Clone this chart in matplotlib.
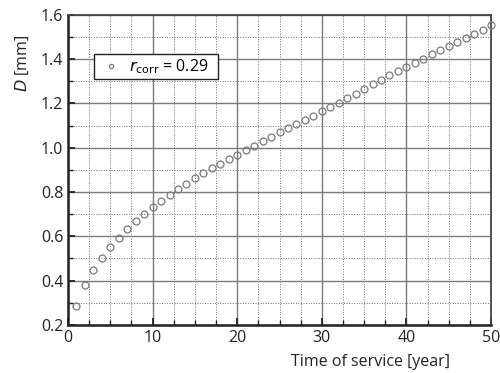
import matplotlib
matplotlib.use("Agg")
import matplotlib.pyplot as plt
from matplotlib.ticker import MultipleLocator

plt.rcParams['font.family'] = ['Open Sans', 'DejaVu Sans']

years = list(range(1, 51))
d_mm = [0.286, 0.379, 0.448, 0.504, 0.552, 0.594, 0.634, 0.670, 0.701, 0.731,
        0.760, 0.788, 0.813, 0.838, 0.862, 0.885, 0.908, 0.928, 0.948, 0.969,
        0.989, 1.010, 1.031, 1.050, 1.070, 1.087, 1.106, 1.126, 1.145, 1.165,
        1.185, 1.204, 1.225, 1.245, 1.266, 1.287, 1.308, 1.328, 1.346, 1.365,
        1.383, 1.403, 1.423, 1.441, 1.460, 1.479, 1.497, 1.515, 1.533, 1.556]
legend_label = r'$r_{\mathrm{corr}}$ = 0.29'

fig = plt.figure(figsize=(5, 3.73), dpi=100)
ax = fig.add_axes([0.136, 0.129, 0.846, 0.831])

ax.plot(years, d_mm, linestyle='none', marker='o', markersize=5.0,
        markerfacecolor='none', markeredgecolor='#7a7a7a', markeredgewidth=0.9,
        label=legend_label, clip_on=False, zorder=3)

ax.set_xlim(0, 50)
ax.set_ylim(0.2, 1.6)
ax.xaxis.set_major_locator(MultipleLocator(10))
ax.xaxis.set_minor_locator(MultipleLocator(2.5))
ax.yaxis.set_major_locator(MultipleLocator(0.2))
ax.yaxis.set_minor_locator(MultipleLocator(0.1))
ax.yaxis.set_major_formatter(plt.FormatStrFormatter('%.1f'))

ax.grid(which='major', color='#7a7a7a', linestyle='-', linewidth=1.0)
ax.grid(which='minor', color='#707070', linestyle=(0, (1.0, 1.6)), linewidth=0.7)
ax.set_axisbelow(True)

for side in ['left', 'bottom']:
    ax.spines[side].set_linewidth(1.8)
    ax.spines[side].set_color('#222222')
for side in ['top', 'right']:
    ax.spines[side].set_linewidth(1.3)
    ax.spines[side].set_color('#444444')

ax.tick_params(which='major', direction='in', length=5, width=1.3,
               labelsize=11.5, colors='#222222')
ax.tick_params(which='minor', direction='in', length=3.5, width=1.0, colors='#222222')

ax.set_xlabel('Time of service [year]', fontsize=11.5, color='#222222')
ax.xaxis.set_label_coords(0.716, -0.095)
ax.set_ylabel(r'$D$ [mm]', fontsize=11.5, color='#222222')
ax.yaxis.set_label_coords(-0.088, 0.845)

leg = ax.legend(loc='upper left', bbox_to_anchor=(0.0615, 0.873, 0.293, 0),
                mode='expand', borderaxespad=0, fancybox=False,
                framealpha=1, edgecolor='#222222', fontsize=11.5,
                handletextpad=0.2, borderpad=0.18, handlelength=1.8,
                markerscale=0.6)
leg.get_frame().set_linewidth(1.0)

fig.savefig('out.png', dpi=100)
